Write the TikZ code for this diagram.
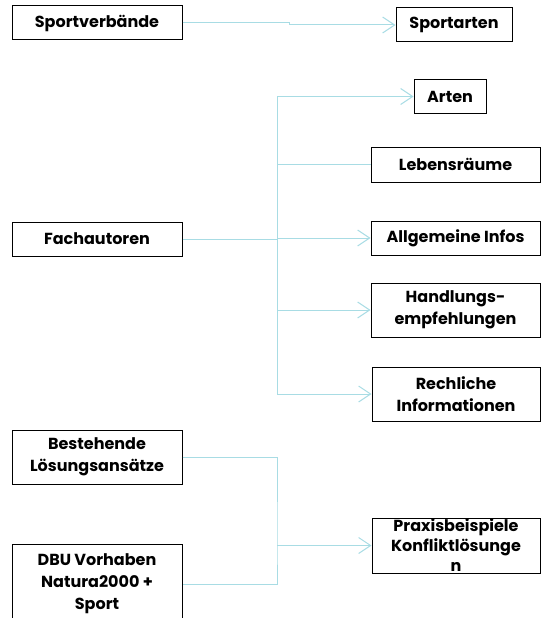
\documentclass[tikz,border=0pt]{standalone}
\usepackage{fontspec}
\setmainfont{Poppins}
\usetikzlibrary{arrows.meta}
\definecolor{linkblue}{HTML}{A8DCE4}

\begin{document}
\begin{tikzpicture}[x=1pt,y=-1pt,
    box/.style={draw=black,line width=1pt,align=center,inner sep=0pt,
      font=\bfseries\fontsize{16}{22}\selectfont},
    link/.style={draw=linkblue,line width=1pt},
    tip/.style={link,-{Straight Barb[length=12pt,width=16pt]}}]
    \useasboundingbox (0,0) rectangle (541,618);

    % Left column
    \node[box,minimum width=170pt,minimum height=34pt] (sv) at (97,23) {Sportverbände};
    \node[box,minimum width=170pt,minimum height=34pt] (fach) at (97,239) {Fachautoren};
    \node[box,minimum width=170pt,minimum height=54pt] (best) at (97,457) {Bestehende\\Lösungsansätze};
    \node[box,minimum width=170pt,minimum height=80pt] (dbu) at (97,584) {DBU Vorhaben\\Natura2000 +\\Sport};

    % Right column
    \node[box,minimum width=116pt,minimum height=34pt] (sa) at (454,25) {Sportarten};
    \node[box,minimum width=72pt,minimum height=34pt] (arten) at (450,96.5) {Arten};
    \node[box,minimum width=169pt,minimum height=35pt] (leb) at (455.5,164.5) {Lebensräume};
    \node[box,minimum width=169pt,minimum height=34pt] (allg) at (455.5,238) {Allgemeine Infos};
    \node[box,minimum width=169pt,minimum height=54pt] (hand) at (455.5,310) {Handlungs-\\empfehlungen};
    \node[box,minimum width=168pt,minimum height=54pt] (rech) at (456,394) {Rechliche\\Informationen};
    \node[box,minimum width=168pt,minimum height=55pt,font=\bfseries\fontsize{16}{20}\selectfont] (prax) at (456,545.5) {Praxisbeispiele\\Konfliktlösunge\\n};

    % Connectors
    \draw[tip] (sv.east) -- ++(107,0) |- (sa.west);

    \coordinate (fj) at (277,239);
    \draw[link] (fach.east) -- (fj);
    \foreach \n in {arten,allg,hand,rech}
      \draw[tip] (fj) |- (\n.west);
    \draw[link] (fj) |- (leb.west);

    \coordinate (bj) at (fj |- prax.west);
    \draw[link] (best.east) -| (bj) |- (dbu.east);
    \draw[tip] (bj) -- (prax.west);
  \end{tikzpicture}
\end{document}
